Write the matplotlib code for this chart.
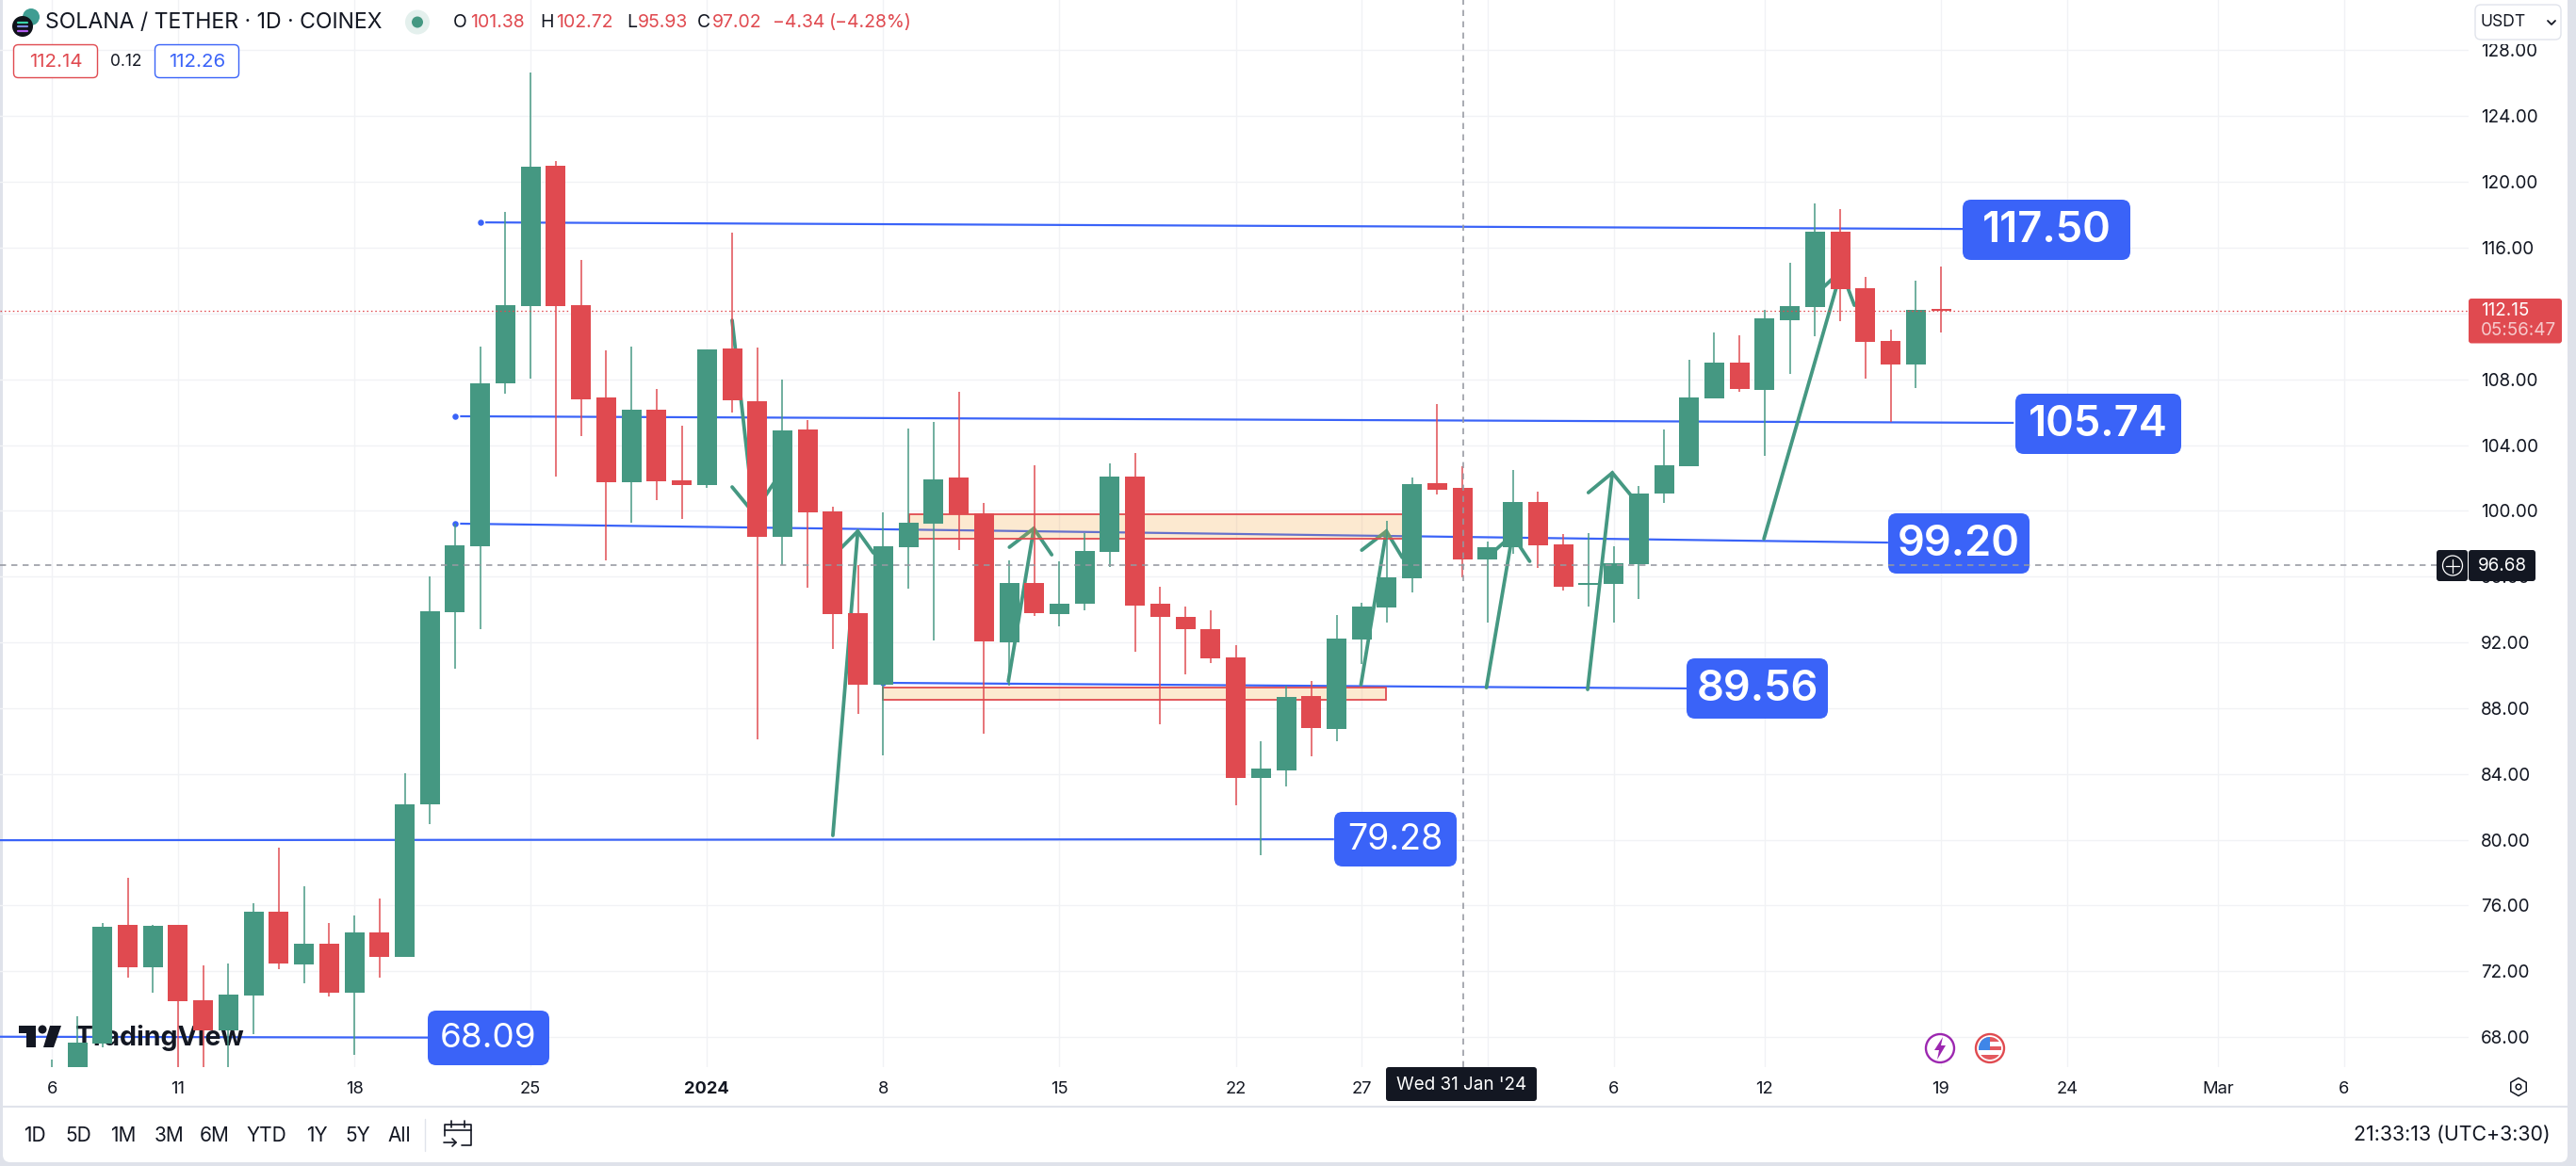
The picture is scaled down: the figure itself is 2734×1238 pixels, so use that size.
import numpy as np
import pandas as pd
import matplotlib
matplotlib.use("Agg")
import matplotlib.pyplot as plt
from matplotlib.patches import FancyBboxPatch, Rectangle, Circle, Polygon, RegularPolygon

# ---------- data ----------
dates = pd.date_range("2023-12-06", "2024-02-19", freq="D")
opens = [65.0,64.6,67.61,74.82,72.24,74.82,70.24,68.41,70.53,75.62,72.42,73.68,70.70,74.36,72.87,82.15,93.83,97.84,107.75,112.45,120.98,112.50,106.89,101.74,106.15,101.85,
         101.57,109.87,106.66,98.42,104.94,99.96,93.78,89.43,97.79,99.22,102.02,99.85,92.00,95.61,93.72,94.35,97.50,102.08,94.35,93.55,92.80,91.09,83.75,84.21,88.74,86.73,92.17,94.12,95.90,101.68,101.38,
         97.02,97.79,100.54,97.96,95.50,95.55,96.76,101.05,102.71,106.83,109.01,107.35,111.59,112.39,116.97,113.54,110.33,108.90,112.26]
highs = [66.63,69.27,74.94,77.68,74.82,74.82,72.36,72.47,76.14,79.52,77.17,74.94,75.39,76.42,84.04,96.01,99.22,109.98,118.17,126.65,121.27,115.25,109.76,109.98,107.41,105.17,
         109.81,116.91,109.93,107.98,105.52,100.25,96.70,99.91,105.00,105.40,107.24,100.48,96.98,102.77,96.93,98.65,102.88,103.51,95.38,94.18,93.95,91.83,85.99,89.37,89.65,93.66,94.41,99.39,102.02,106.49,102.72,
         98.13,102.48,101.17,98.59,98.65,97.84,101.51,104.94,109.18,110.84,110.67,112.22,115.08,118.69,118.35,114.22,111.02,113.99,114.85]
lows = [64.0,63.5,67.4,71.61,70.70,65.5,65.5,65.8,68.18,72.13,71.27,70.47,66.92,71.61,72.87,80.95,90.40,92.80,107.12,108.04,102.08,104.54,96.98,99.28,100.65,99.50,
        101.39,105.98,86.10,96.70,95.32,91.60,87.65,85.13,95.27,92.12,97.61,86.45,89.37,93.61,92.98,93.95,96.58,91.43,87.02,90.05,90.74,82.09,79.06,83.24,85.07,85.99,90.68,93.20,95.04,100.99,95.93,
        93.20,97.39,96.53,95.15,94.18,93.20,94.64,100.48,102.71,106.83,107.24,103.34,108.32,110.61,111.53,108.04,105.40,107.46,110.84]
closes = [65.6,67.66,74.71,72.24,74.76,70.18,68.41,70.58,75.62,72.47,73.68,70.70,74.36,72.87,82.15,93.89,97.90,107.75,112.50,120.92,112.45,106.78,101.74,106.15,101.80,101.57,
          109.81,106.72,98.42,104.89,99.91,93.72,89.43,97.84,99.28,101.91,99.79,92.06,95.61,93.78,94.35,97.56,102.08,94.24,93.55,92.80,91.03,83.75,84.33,88.68,86.79,92.23,94.18,95.95,101.62,101.28,97.02,
          97.79,100.54,97.90,95.38,95.61,96.81,101.05,102.77,106.89,109.01,107.41,111.70,112.45,116.97,113.48,110.27,108.90,112.22,112.15]

price_ticks = [68,72,76,80,84,88,92,96,100,104,108,112,116,120,124,128]
price_hidden = [112]          # covered by the last-price tag in the reference
day_ticks = [-26,-21,-14,-7,0,7,14,21,26,31,36,42,49,54,60,65]
day_labels = ["6","11","18","25","2024","8","15","22","27","","6","12","19","24","Mar","6"]

# blue trend lines: (day, price) ends
line_days = [(-8.8,49.87),(-9.8,51.89),(-9.8,46.9),(7.2,38.9),(-28.07,24.9),(-28.07,-11.08)]
line_prices = [(117.54,117.14),(105.75,105.35),(99.22,98.07),(89.54,89.20),(79.97,80.03),(68.02,67.97)]
dot_days = [-8.99,-10.0,-10.0,7.0]
dot_prices = [117.54,105.75,99.22,89.54]
level_labels = ["117.50","105.74","99.20","89.56","79.28","68.09"]
level_sizes = [32.5,32.5,32.5,32.5,27,26.5]

# hand-drawn arrows: shaft start, tip, two wing ends
arrow_starts = [(1.0,111.59),(5.00,80.26),(11.97,89.65),(25.97,89.43),(30.95,89.25),(34.97,89.14),(41.97,98.30)]
arrow_tips = [(1.86,99.85),(5.99,98.76),(12.98,98.93),(26.98,98.76),(31.98,98.53),(35.95,102.31),(45.04,114.62)]
arrow_wing_l = [(1.0,101.45),(5.02,97.27),(12.01,97.79),(26.0,97.61),(31.0,97.2),(35.0,101.11),(44.33,113.59)]
arrow_wing_r = [(2.68,101.74),(6.61,97.44),(13.69,97.33),(27.61,97.16),(32.67,96.93),(36.66,101.0),(45.56,112.5)]

# zones: day start, day end, price low, price high
zone_d0 = [8.03,7.0]
zone_d1 = [27.98,26.98]
zone_lo = [98.30,88.51]
zone_hi = [99.79,89.25]

last_price = 112.15
cross_price = 96.68
cross_day = 30

# ---------- styling ----------
W, H = 2734, 1238
GREEN, RED, BLUE = "#459882", "#e04a50", "#3a63f8"
INK = "#131722"
GRID = "#f1f2f5"
plt.rcParams["font.family"] = ["Inter", "DejaVu Sans"]
PX = 72 / 100

fig = plt.figure(figsize=(W / 100, H / 100), dpi=100, facecolor="#dfe2ea")
ui = fig.add_axes([0, 0, 1, 1], zorder=0)
ui.set_xlim(0, W); ui.set_ylim(H, 0); ui.axis("off")
T = ui.transData
ui.add_patch(FancyBboxPatch((3, -20), 2722, 1254, boxstyle="round,pad=0,rounding_size=8", fc="white", ec="none"))

pane_top, pane_bot, pane_r = 0, 1132.7, 2620
ax = fig.add_axes([0, 1 - pane_bot / H, pane_r / W, (pane_bot - pane_top) / H], zorder=1)
ax.patch.set_alpha(0)
ax.set_xlim(-28.07, 69.95)
ax.set_ylim(66.19, 131.064)
for s in ax.spines.values():
    s.set_visible(False)
ax.set_axisbelow(True)
ax.grid(True, color=GRID, lw=1.4 * PX)
ax.yaxis.tick_right()
ax.set_yticks(price_ticks)
ax.set_yticklabels(["" if p in price_hidden else f"{p:.2f}" for p in price_ticks], fontsize=13.6, color=INK)
ax.set_xticks(day_ticks)
ax.set_xticklabels(day_labels, fontsize=13.2, color=INK)
ax.tick_params(length=0)
ax.tick_params(axis="y", pad=9.4)
ax.tick_params(axis="x", pad=11.0)
for lab in ax.get_xticklabels():
    if lab.get_text() == "2024":
        lab.set_fontweight("bold")

def txt(x, y, s, color=INK, size=14, weight="normal", ha="left", va="center", z=20):
    return ax.text(x, y, s, color=color, fontsize=size, fontweight=weight, ha=ha, va=va,
                   transform=T, clip_on=False, zorder=z)

def rbox(x0, y0, x1, y1, r=6, fc="white", ec="none", lw=0, z=15):
    p = FancyBboxPatch((x0, y0), x1 - x0, y1 - y0, boxstyle=f"round,pad=0,rounding_size={r}",
                       fc=fc, ec=ec, lw=lw, transform=T, clip_on=False, zorder=z)
    ax.add_patch(p)
    return p

def uline(xs, ys, color=INK, lw=1.5, z=20, **kw):
    ax.plot(xs, ys, color=color, lw=lw, transform=T, clip_on=False, zorder=z, solid_capstyle="round", **kw)

# blue lines
for d, p in zip(line_days, line_prices):
    ax.plot(d, p, color=BLUE, lw=2.2 * PX, zorder=2, solid_capstyle="butt")
ax.scatter(dot_days, dot_prices, s=22, color=BLUE, zorder=2, linewidths=0)

# arrows
for st, tip, wl, wr in zip(arrow_starts, arrow_tips, arrow_wing_l, arrow_wing_r):
    ax.plot([st[0], tip[0]], [st[1], tip[1]], color=GREEN, lw=3.8 * PX, zorder=3, solid_capstyle="round")
    ax.plot([wl[0], tip[0], wr[0]], [wl[1], tip[1], wr[1]], color=GREEN, lw=3.8 * PX, zorder=3,
            solid_capstyle="round", solid_joinstyle="miter")

# zones
for d0, d1, lo, hi in zip(zone_d0, zone_d1, zone_lo, zone_hi):
    ax.add_patch(Rectangle((d0, lo), d1 - d0, hi - lo, fc=(0.96, 0.63, 0.22, 0.23), ec="none", zorder=3.5))
    ax.add_patch(Rectangle((d0, lo), d1 - d0, hi - lo, fc="none", ec=RED, lw=1.8 * PX, zorder=3.6))

# TradingView watermark (sits under the candles)
ax.add_patch(Polygon([(20, 1089), (38, 1089), (38, 1112), (28, 1112), (28, 1097), (20, 1097)], fc=INK, ec="none",
                     transform=T, clip_on=False, zorder=3.7))
ax.add_patch(Circle((45, 1093), 4.5, fc=INK, ec="none", transform=T, clip_on=False, zorder=3.7))
ax.add_patch(Polygon([(53, 1089), (65, 1089), (57, 1112), (46, 1112)], fc=INK, ec="none",
                     transform=T, clip_on=False, zorder=3.7))
txt(80, 1102, "TradingView", size=20.5, weight="bold", z=3.7)

# candles
days = np.array((dates - pd.Timestamp("2024-01-01")).days)
o, h_, l_, c = map(np.array, (opens, highs, lows, closes))
colors = [GREEN if ci >= oi else RED for oi, ci in zip(o, c)]
ax.vlines(days, l_, h_, colors=colors, lw=1.5 * PX, zorder=4)
ax.bar(days, np.maximum(np.abs(c - o), 0.12), bottom=np.minimum(o, c), width=21 / 26.73,
       color=colors, linewidth=0, zorder=5)

# level labels
boxes = [(2083, 212, 2261, 276), (2139, 418, 2315, 482), (2004, 545, 2154, 609),
         (1790, 699, 1940, 763), (1416, 862, 1546, 920), (454, 1073, 583, 1131)]
for (x0, y0, x1, y1), s, fs in zip(boxes, level_labels, level_sizes):
    big = y1 - y0 > 60
    rbox(x0, y0, x1, y1, r=9, fc=BLUE, z=6)
    txt((x0 + x1) / 2, (y0 + y1) / 2 + 1, s, color="white", size=fs,
        weight="semibold" if big else "normal", ha="center", z=6.5)

# crosshair and last price lines
ax.axhline(last_price, xmin=0, xmax=1, color=RED, lw=1.3 * PX, ls=(0, (1.2, 2.2)), zorder=7)
ax.plot([-28.07, (2586 - 750.3) / 26.73], [cross_price] * 2, color="#9598a1", lw=1.6 * PX, ls=(0, (4, 3.5)), zorder=7)
ax.axvline(cross_day + 0.03, color="#9598a1", lw=1.6 * PX, ls=(0, (4, 3.5)), zorder=7)

# legend
ax.add_patch(Circle((33, 18), 9, fc="#3f9d92", ec="none", transform=T, clip_on=False, zorder=20))
ax.add_patch(Circle((24, 28), 11, fc="#10131a", ec="none", transform=T, clip_on=False, zorder=21))
for yy, col in zip((23.5, 28, 32.5), ("#39d5a8", "#7d8ce0", "#b25cf0")):
    uline([19, 29], [yy, yy], color=col, lw=1.6, z=22)
txt(48, 24, "SOLANA / TETHER · 1D · COINEX", size=16.6)
ax.add_patch(Circle((443, 23.5), 13, fc="#e4f0ed", ec="none", transform=T, clip_on=False, zorder=20))
ax.add_patch(Circle((443, 23.5), 6, fc=GREEN, ec="none", transform=T, clip_on=False, zorder=21))
for x, s, col in [(481, "O", INK), (499, "101.38", RED), (573, "H", INK), (590, "102.72", RED),
                  (665, "L", INK), (677, "95.93", RED), (740, "C", INK), (756, "97.02", RED),
                  (820, "−4.34", RED), (880, "(−4.28%)", RED)]:
    txt(x, 24, s, color=col, size=14)
rbox(14.5, 47.5, 103.5, 82.5, r=5, fc="white", ec=RED, lw=1.0, z=19)
txt(59, 66, "112.14", color=RED, size=14.8, ha="center")
txt(133.5, 66, "0.12", size=12.5, ha="center")
rbox(164.5, 47.5, 253.5, 82.5, r=5, fc="white", ec=BLUE, lw=1.0, z=19)
txt(209, 66, "112.26", color=BLUE, size=14.8, ha="center")

# right axis chrome
ax.add_patch(Rectangle((2621, 0), 104, 47, fc="white", ec="none", transform=T, clip_on=False, zorder=14))
rbox(2627, 5, 2718, 42, r=6, fc="white", ec="#e0e3eb", lw=1.0, z=15)
txt(2632, 23.5, "USDT", size=12.6)
uline([2704, 2708, 2712], [22, 26, 22], color=INK, lw=1.3)
rbox(2620, 317, 2719, 364.5, r=3, fc=RED, z=15)
txt(2633, 330, "112.15", color="white", size=13.6)
txt(2633, 351, "05:56:47", color="#f6c9cb", size=13.6)
rbox(2586, 584, 2619, 617, r=3, fc=INK, z=15)
rbox(2620, 584, 2691, 617, r=3, fc=INK, z=15)
txt(2656, 600.5, "96.68", color="white", size=13.6, ha="center")
ax.add_patch(Circle((2603, 600.5), 10.5, fc="none", ec="white", lw=0.9, transform=T, clip_on=False, zorder=20))
uline([2596, 2610], [600.5, 600.5], color="white", lw=0.9)
uline([2603, 2603], [593.5, 607.5], color="white", lw=0.9)

# date box
rbox(1471, 1133, 1631, 1169, r=3, fc=INK, z=15)
txt(1551, 1152, "Wed 31 Jan '24", color="white", size=13.6, ha="center")

# event icons
ax.add_patch(Circle((2059, 1113), 15, fc="white", ec="#9c27b0", lw=1.7, transform=T, clip_on=False, zorder=20))
ax.add_patch(Polygon([(2062, 1101), (2053, 1115), (2058, 1115), (2056, 1125), (2065, 1110), (2060, 1110)],
                     fc="#9c27b0", ec="none", transform=T, clip_on=False, zorder=21))
ax.add_patch(Circle((2112, 1113), 15, fc="white", ec=RED, lw=1.7, transform=T, clip_on=False, zorder=20))
clip = Circle((2112, 1113), 12, transform=T)
for i, col in enumerate(["#e35a5f", "white", "#e35a5f", "white", "#e35a5f"]):
    r = Rectangle((2100, 1101 + i * 4.8), 24, 4.8, fc=col, ec="none", transform=T, zorder=21)
    ax.add_patch(r); r.set_clip_path(clip)
r = Rectangle((2100, 1101), 12, 14, fc="#3f86e8", ec="none", transform=T, zorder=22)
ax.add_patch(r); r.set_clip_path(clip)

# gear
ax.add_patch(RegularPolygon((2673, 1154), 6, radius=9.5, fc="white", ec=INK, lw=1.1, transform=T, clip_on=False, zorder=20))
ax.add_patch(Circle((2673, 1154), 2.8, fc="white", ec=INK, lw=1.1, transform=T, clip_on=False, zorder=21))

# toolbar
uline([3, 2725], [1175, 1175], color="#e0e3eb", lw=1.5, z=12)
for x, s in zip((37, 83, 131, 180, 228, 283, 336, 380, 424),
                ("1D", "5D", "1M", "3M", "6M", "YTD", "1Y", "5Y", "All")):
    txt(x, 1206, s, size=15, ha="center")
uline([451, 451], [1188, 1222], color="#e0e3eb", lw=1.0, z=12)
uline([472, 472, 500, 500, 490], [1206, 1194, 1194, 1216, 1216], color=INK, lw=1.2)
uline([472, 500], [1200, 1200], color=INK, lw=1.2)
uline([479, 479], [1190, 1197], color=INK, lw=1.2)
uline([493, 493], [1190, 1197], color=INK, lw=1.2)
uline([471, 484], [1213, 1213], color=INK, lw=1.2)
uline([480, 484, 480], [1209, 1213, 1217], color=INK, lw=1.2)
txt(2707, 1205, "21:33:13 (UTC+3:30)", size=15.4, ha="right")

fig.savefig("out.png", dpi=100, facecolor=fig.get_facecolor())
